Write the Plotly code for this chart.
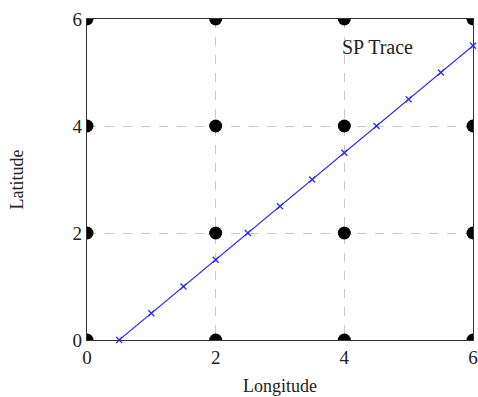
import plotly.graph_objects as go

grid_x = [0, 0, 0, 0, 2, 2, 2, 2, 4, 4, 4, 4, 6, 6, 6, 6]
grid_y = [0, 2, 4, 6, 0, 2, 4, 6, 0, 2, 4, 6, 0, 2, 4, 6]

trace_x = [0.5, 1.0, 1.5, 2.0, 2.5, 3.0, 3.5, 4.0, 4.5, 5.0, 5.5, 6.0]
trace_y = [0.0, 0.5, 1.0, 1.5, 2.0, 2.5, 3.0, 3.5, 4.0, 4.5, 5.0, 5.5]

tick_vals = [0, 2, 4, 6]
tick_text = ["0", "2", "4", "6"]

serif = "Liberation Serif, DejaVu Serif, serif"

fig = go.Figure()
fig.add_trace(go.Scatter(x=grid_x, y=grid_y, mode="markers",
                         marker=dict(color="black", size=13),
                         cliponaxis=True, showlegend=False))
fig.add_trace(go.Scatter(x=trace_x, y=trace_y, mode="lines+markers",
                         line=dict(color="rgb(40,40,255)", width=1.1),
                         marker=dict(symbol="x-thin", size=6,
                                     line=dict(color="rgb(40,40,255)", width=1.2)),
                         cliponaxis=False, showlegend=False))

fig.add_annotation(x=4.52, y=5.48, text="SP Trace", showarrow=False,
                   font=dict(family=serif, size=20, color="#222"))

axis_common = dict(range=[0, 6], tickvals=tick_vals, ticktext=tick_text,
                   showgrid=True, gridcolor="#c8c8c8", griddash="dash", gridwidth=1,
                   showline=True, linecolor="#333", linewidth=1.3, mirror=True,
                   zeroline=False, ticks="", automargin=False,
                   tickfont=dict(family=serif, size=19, color="#222"))

fig.update_xaxes(**axis_common, title=dict(text="Longitude", standoff=12,
                 font=dict(family=serif, size=18, color="#222")))
fig.update_yaxes(**axis_common, title=dict(text="Latitude", standoff=44,
                 font=dict(family=serif, size=18, color="#222")))

fig.update_layout(width=478, height=397, margin=dict(l=87, r=5, t=19, b=57),
                  plot_bgcolor="white", paper_bgcolor="white")

fig.write_html("out.html")
